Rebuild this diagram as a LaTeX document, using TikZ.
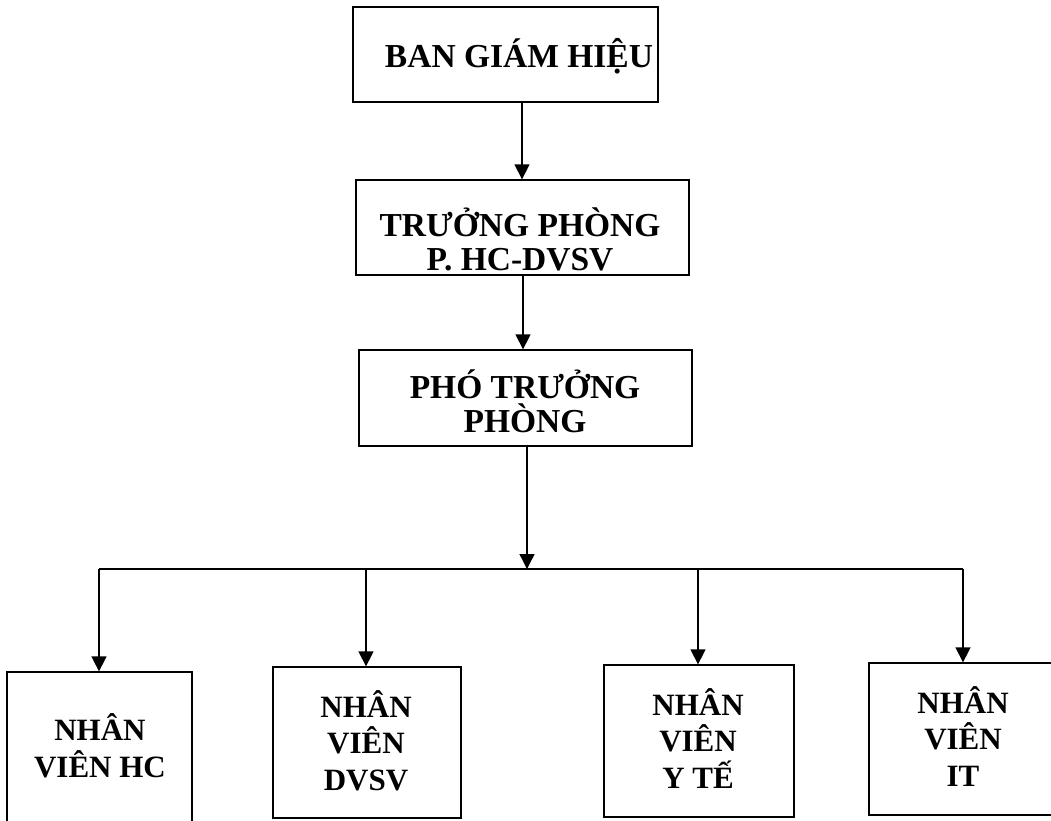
\documentclass[tikz,border=0pt]{standalone}
\usepackage{fontspec}
\setmainfont{Liberation Serif}
\usetikzlibrary{arrows.meta}
\begin{document}
\begin{tikzpicture}[x=1pt,y=-1pt,
  box/.style={draw=black, line width=1.3pt, rectangle, inner sep=0pt},
  toplbl/.style={font=\fontsize{33.5}{34}\selectfont\bfseries, align=center, inner sep=0pt, anchor=base},
  botlbl/.style={font=\fontsize{31}{36.5}\selectfont\bfseries, align=center, inner sep=0pt, anchor=base},
  conn/.style={line width=1.3pt, draw=black},
  arr/.style={conn, -{Triangle[width=15pt,length=15pt]}}]
\useasboundingbox (0,0) rectangle (1051,820);
% boxes
\node[box, minimum width=305pt, minimum height=95pt] (b1) at (505.5,54.5) {};
\node[box, minimum width=333pt, minimum height=95pt] (b2) at (522.5,227.5) {};
\node[box, minimum width=333pt, minimum height=96pt] (b3) at (525.5,398) {};
\node[box, minimum width=185pt, minimum height=150pt] (b4) at (99.5,747) {};
\node[box, minimum width=188pt, minimum height=151pt] (b5) at (367,742.5) {};
\node[box, minimum width=190pt, minimum height=152pt] (b6) at (699,741) {};
\node[box, minimum width=188pt, minimum height=152pt] (b7) at (963,739) {};
% texts (anchor base = baseline of the last line)
\node[toplbl] (t1) at (519,67) {BAN GIÁM HIỆU};
\node[toplbl] (t2) at (520,270) {TRƯỞNG PHÒNG\\P. HC-DVSV};
\node[toplbl] (t3) at (525,432) {PHÓ TRƯỞNG\\PHÒNG};
\node[botlbl] (t4) at (100,777) {NHÂN\\VIÊN HC};
\node[botlbl] (t5) at (366,790) {NHÂN\\VIÊN\\DVSV};
\node[botlbl] (t6) at (698,788) {NHÂN\\VIÊN\\Y TẾ};
\node[botlbl] (t7) at (963,786) {NHÂN\\VIÊN\\IT};
% connector coordinates
\coordinate (x12) at (522,0);
\coordinate (x23) at (523,0);
\coordinate (j) at (527,569);
\coordinate (j4) at (99,569);
\coordinate (j5) at (366,569);
\coordinate (j6) at (698,569);
\coordinate (j7) at (963,569);
% connectors
\draw[arr] (b1.south -| x12) -- (b2.north -| x12);
\draw[arr] (b2.south -| x23) -- (b3.north -| x23);
\draw[arr] (b3.south -| j) -- (j);
\draw[conn] (j4) -- (j7);
\draw[arr] (j4) -- (b4.north -| j4);
\draw[arr] (j5) -- (b5.north -| j5);
\draw[arr] (j6) -- (b6.north -| j6);
\draw[arr] (j7) -- (b7.north -| j7);
\end{tikzpicture}
\end{document}
